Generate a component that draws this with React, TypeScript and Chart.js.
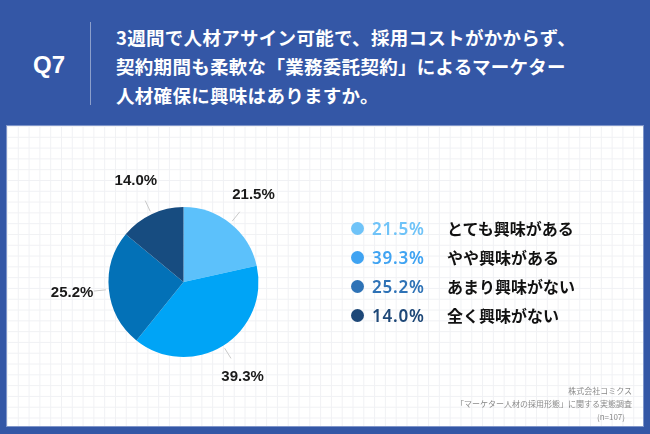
import React, { useEffect, useRef } from "react";
import { Chart, registerables } from "chart.js";

Chart.register(...registerables);

const questionLabel = "Q7";
const titleLines = [
  "3週間で人材アサイン可能で、採用コストがかからず、",
  "契約期間も柔軟な「業務委託契約」によるマーケター",
  "人材確保に興味はありますか。",
];
const categories = ["とても興味がある", "やや興味がある", "あまり興味がない", "全く興味がない"];
const values = [21.5, 39.3, 25.2, 14.0];
const sliceColors = ["#5cc1fb", "#00a4f6", "#0371b7", "#174c80"];
const legendColors = ["#6fc3f8", "#3fa3f2", "#2e72b6", "#1e4878"];
const footerLines = ["株式会社コミクス", "「マーケター人材の採用形態」に関する実態調査", "(n=107)"];

const JP = '"Noto Sans CJK JP", "Noto Sans", sans-serif';
const LATIN = '"Liberation Sans", Arial, sans-serif';

const labelPlugin = {
  id: "outerLabels",
  afterDatasetsDraw(chart: any) {
    const ctx = chart.ctx;
    const meta = chart.getDatasetMeta(0);
    ctx.save();
    meta.data.forEach((arc: any, i: number) => {
      const { x, y, startAngle, endAngle, outerRadius } = arc.getProps(
        ["x", "y", "startAngle", "endAngle", "outerRadius"],
        true
      );
      const mid = (startAngle + endAngle) / 2;
      const c = Math.cos(mid);
      const s = Math.sin(mid);
      ctx.strokeStyle = "#c9c9c9";
      ctx.lineWidth = 1;
      ctx.beginPath();
      ctx.moveTo(x + c * (outerRadius + 3), y + s * (outerRadius + 3));
      ctx.lineTo(x + c * (outerRadius + 15), y + s * (outerRadius + 15));
      ctx.stroke();
      const lr = outerRadius + 37;
      ctx.fillStyle = "#1a1a1a";
      ctx.font = `bold 15px ${LATIN}`;
      ctx.textAlign = "center";
      ctx.textBaseline = "middle";
      ctx.fillText(values[i].toFixed(1) + "%", x + c * lr, y + s * lr);
    });
    ctx.restore();
  },
};

function PieCanvas() {
  const ref = useRef<HTMLCanvasElement | null>(null);
  useEffect(() => {
    if (!ref.current) return;
    const chart = new Chart(ref.current, {
      type: "pie",
      data: {
        labels: categories,
        datasets: [
          {
            data: values,
            backgroundColor: sliceColors,
            borderWidth: 0,
          },
        ],
      },
      options: {
        responsive: false,
        animation: false,
        layout: { padding: { left: 108, top: 207, right: 391, bottom: 77 } },
        plugins: { legend: { display: false }, tooltip: { enabled: false } },
      },
      plugins: [labelPlugin],
    });
    return () => chart.destroy();
  }, []);
  return (
    <canvas
      ref={ref}
      width={650}
      height={434}
      style={{ position: "absolute", left: 0, top: 0, width: 650, height: 434 }}
    />
  );
}

export default function App() {
  return (
    <div
      style={{
        position: "fixed",
        left: 0,
        top: 0,
        width: 650,
        height: 434,
        background: "#3457a6",
        overflow: "hidden",
      }}
    >
      <div
        style={{
          position: "absolute",
          left: 33,
          top: 53,
          height: 24,
          lineHeight: "24px",
          fontFamily: LATIN,
          fontWeight: "bold",
          fontSize: 24,
          color: "#ffffff",
        }}
      >
        {questionLabel}
      </div>
      <div
        style={{
          position: "absolute",
          left: 90,
          top: 22,
          width: 1,
          height: 83,
          background: "#8c9fcb",
        }}
      />
      <div
        style={{
          position: "absolute",
          left: 116,
          top: 23,
          fontFamily: JP,
          fontWeight: "bold",
          fontSize: 18.5,
          lineHeight: "29px",
          letterSpacing: 0.3,
          color: "#ffffff",
          whiteSpace: "nowrap",
        }}
      >
        {titleLines.map((t, i) => (
          <div key={i}>{t}</div>
        ))}
      </div>
      <div
        style={{
          position: "absolute",
          left: 7,
          top: 126,
          width: 636,
          height: 300,
          background: "#ffffff",
          backgroundImage:
            "linear-gradient(to right, #f0f1f4 1px, transparent 1px), linear-gradient(to bottom, #f0f1f4 1px, transparent 1px)",
          backgroundSize: "10.8px 10.8px",
          backgroundPosition: "0px 0px",
          boxShadow: "0 0 0 1px #7f95c9",
        }}
      />
      <PieCanvas />
      <div style={{ position: "absolute", left: 0, top: 214 }}>
        {categories.map((c, i) => (
          <div
            key={i}
            style={{ position: "relative", height: 29, width: 650 }}
          >
            <div
              style={{
                position: "absolute",
                left: 351,
                top: 8,
                width: 13,
                height: 13,
                borderRadius: "50%",
                background: legendColors[i],
              }}
            />
            <div
              style={{
                position: "absolute",
                left: 372,
                top: 0,
                lineHeight: "29px",
                fontFamily: '"Noto Sans", sans-serif',
                fontWeight: 600,
                fontSize: 17,
                letterSpacing: 0.8,
                color: legendColors[i],
              }}
            >
              {values[i].toFixed(1) + "%"}
            </div>
            <div
              style={{
                position: "absolute",
                left: 447,
                top: 0,
                lineHeight: "29px",
                fontFamily: JP,
                fontWeight: "bold",
                fontSize: 16,
                color: "#111111",
                whiteSpace: "nowrap",
              }}
            >
              {c}
            </div>
          </div>
        ))}
      </div>
      <div
        style={{
          position: "absolute",
          right: 18,
          top: 384,
          textAlign: "right",
          fontFamily: JP,
          fontSize: 8,
          lineHeight: "13px",
          color: "#8a8a8a",
          whiteSpace: "nowrap",
        }}
      >
        {footerLines.map((t, i) => (
          <div key={i} style={{ paddingRight: i === 2 ? 7 : 0 }}>
            {t}
          </div>
        ))}
      </div>
    </div>
  );
}
